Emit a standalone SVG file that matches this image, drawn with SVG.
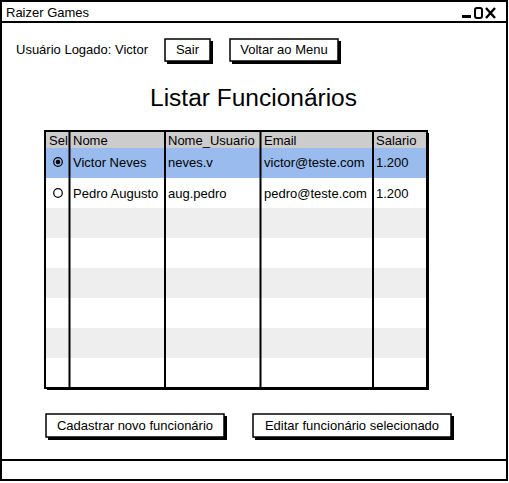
<svg xmlns="http://www.w3.org/2000/svg" width="509" height="483" viewBox="0 0 509 483">
<style>
text{font-family:"Liberation Sans",Arial,sans-serif;fill:#000}
.lbl{font-size:13px}
.cell{font-size:13px}
.btn{fill:#fff;stroke:#000;stroke-width:1.5}
.sh{fill:#000}
.line{stroke:#000;stroke-width:2;fill:none}
</style>
<rect width="509" height="483" fill="#fff"/>
<g id="window">
<rect x="1" y="1" width="506" height="479" fill="#fff" stroke="#000" stroke-width="2"/>
<line x1="1" y1="22" x2="507" y2="22" class="line"/>
<text x="6" y="17" class="lbl">Raizer Games</text>
<rect x="462" y="15" width="9" height="3" fill="#000"/>
<rect x="475" y="8" width="7" height="10" rx="2" fill="none" stroke="#000" stroke-width="2"/>
<path d="M486 8 L495 18 M495 8 L486 18" stroke="#000" stroke-width="2.4"/>
<line x1="1" y1="460" x2="507" y2="460" class="line"/>
</g>
<g id="user-label"><text x="16" y="54" class="lbl">Usuário Logado: Victor</text></g>
<g id="btn-sair">
<rect x="167" y="41" width="46" height="23" class="sh"/>
<rect x="165" y="39" width="45" height="22" class="btn"/>
<text x="187.5" y="54" class="lbl" text-anchor="middle">Sair</text>
</g>
<g id="btn-voltar">
<rect x="232" y="41" width="109" height="23" class="sh"/>
<rect x="230" y="39" width="108" height="22" class="btn"/>
<text x="284" y="54" class="lbl" text-anchor="middle">Voltar ao Menu</text>
</g>
<g id="title"><text x="150" y="106" font-size="23" textLength="207" lengthAdjust="spacingAndGlyphs">Listar Funcionários</text></g>
<g id="table">
<rect x="47" y="133" width="382" height="257" fill="#000"/>
<rect x="45" y="131" width="382" height="257" fill="#fff"/>
<rect x="45" y="131" width="382" height="17" fill="#cccccc"/>
<rect x="45" y="148" width="382" height="30" fill="#99bbee"/>
<rect x="45" y="208" width="382" height="30" fill="#eeeeee"/>
<rect x="45" y="268" width="382" height="30" fill="#eeeeee"/>
<rect x="45" y="328" width="382" height="30" fill="#eeeeee"/>
<text x="49" y="145" class="cell">Sel</text>
<rect x="70" y="132" width="94" height="15" fill="#cccccc"/>
<g stroke="#000" stroke-width="2">
<line x1="69.5" y1="131" x2="69.5" y2="388"/>
<line x1="165" y1="131" x2="165" y2="388"/>
<line x1="260.5" y1="131" x2="260.5" y2="388"/>
<line x1="373" y1="131" x2="373" y2="388"/>
</g>
<rect x="45" y="131" width="382" height="257" fill="none" stroke="#000" stroke-width="2"/>
<text x="73" y="145" class="cell">Nome</text>
<text x="168" y="145" class="cell">Nome_Usuario</text>
<text x="264" y="145" class="cell">Email</text>
<text x="376" y="145" class="cell">Salario</text>
<circle cx="58" cy="162" r="4.3" fill="none" stroke="#000" stroke-width="1.2"/>
<circle cx="58" cy="162" r="2.3" fill="#000"/>
<text x="73" y="167" class="cell">Victor Neves</text>
<text x="168" y="167" class="cell">neves.v</text>
<text x="264" y="167" class="cell">victor@teste.com</text>
<text x="376" y="167" class="cell">1.200</text>
<circle cx="58" cy="193" r="4.3" fill="none" stroke="#000" stroke-width="1.2"/>
<text x="73" y="198" class="cell">Pedro Augusto</text>
<text x="168" y="198" class="cell">aug.pedro</text>
<text x="264" y="198" class="cell">pedro@teste.com</text>
<text x="376" y="198" class="cell">1.200</text>
</g>
<g id="btn-cadastrar">
<rect x="48" y="416" width="179" height="24" class="sh"/>
<rect x="46" y="414" width="178" height="23" class="btn"/>
<text x="135" y="430" class="lbl" text-anchor="middle">Cadastrar novo funcionário</text>
</g>
<g id="btn-editar">
<rect x="255" y="416" width="199" height="24" class="sh"/>
<rect x="253" y="414" width="198" height="23" class="btn"/>
<text x="352" y="430" class="lbl" text-anchor="middle">Editar funcionário selecionado</text>
</g>
</svg>
